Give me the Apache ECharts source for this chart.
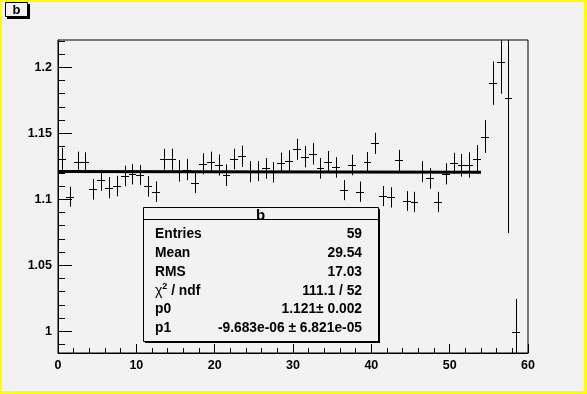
<!DOCTYPE html>
<html>
<head>
<meta charset="utf-8">
<script src="https://cdn.jsdelivr.net/npm/echarts@6/dist/echarts.min.js"></script>
<style>
html,body{margin:0;padding:0;background:#f2f2f2;}
#c{width:587px;height:394px;}
</style>
</head>
<body>
<div id="c"></div>
<script>
// ---- data ----
var binCenters = [];
for (var i = 0; i < 59; i++) binCenters.push(i + 0.5);
var binValues = [1.1305, 1.102, 1.128, 1.128, 1.1076, 1.1144, 1.1088, 1.110, 1.1177, 1.119,
  1.1185, 1.1098, 1.1058, 1.1303, 1.1303, 1.1216, 1.1226, 1.1126, 1.127, 1.128,
  1.126, 1.1183, 1.1305, 1.1326, 1.121, 1.1214, 1.1235, 1.1205, 1.1277, 1.129,
  1.1379, 1.1323, 1.1345, 1.1235, 1.1285, 1.1242, 1.107, 1.126, 1.1058, 1.128,
  1.1424, 1.1025, 1.1015, 1.1295, 1.0987, 1.098, 1.121, 1.1159, 1.098, 1.1193,
  1.1273, 1.1258, 1.126, 1.1303, 1.1476, 1.188, 1.2038, 1.1765, 0.9993];
var binErrors = [0.0085, 0.0076, 0.0081, 0.0076, 0.0078, 0.0080, 0.0080, 0.0078, 0.0078, 0.0077,
  0.0076, 0.0078, 0.0078, 0.0080, 0.0081, 0.0082, 0.0080, 0.0078, 0.0080, 0.0081,
  0.0080, 0.0082, 0.0078, 0.0081, 0.0080, 0.0076, 0.0078, 0.0077, 0.0077, 0.0083,
  0.0080, 0.0081, 0.0081, 0.0078, 0.0081, 0.0078, 0.0076, 0.0078, 0.0077, 0.0078,
  0.0080, 0.0076, 0.0077, 0.0080, 0.0075, 0.0077, 0.0080, 0.0078, 0.0077, 0.0080,
  0.0080, 0.0086, 0.0096, 0.0108, 0.0124, 0.0164, 0.0238, 0.102, 0.0253];
var fitX = [0, 54];
var fitY = [1.121, 1.1205];
var xTickLabels = ['0', '10', '20', '30', '40', '50', '60'];
var yMajorTicks = [1, 1.05, 1.1, 1.15, 1.2];
var yMajorLabels = ['1', '1.05', '1.1', '1.15', '1.2'];
var yMinorTicks = [0.99, 1.01, 1.02, 1.03, 1.04, 1.06, 1.07, 1.08, 1.09, 1.11, 1.12, 1.13, 1.14, 1.16, 1.17, 1.18, 1.19, 1.21, 1.22];
var statNames = ['Entries', 'Mean', 'RMS', '{c|\u03C7}{s|2}{n| / ndf}', 'p0', 'p1'];
var statValues = ['59', '29.54', '17.03', '111.1 / 52', '1.121\u00B1 0.002', '-9.683e-06 \u00B1 6.821e-05'];
var histTitle = 'b';

// ---- chart ----
var FONT = "'Liberation Sans', Arial, Helvetica, sans-serif";
var SF = 13.8;
var chart = echarts.init(document.getElementById('c'), null, {renderer: 'canvas'});
var errData = binCenters.map(function (x, i) { return [x, binValues[i], binErrors[i]]; });
var fitData = fitX.map(function (x, i) { return [x, fitY[i]]; });
var Y_MIN = 0.9836, Y_MAX = 1.2207;

function renderErr(params, api) {
  var x = api.value(0), y = api.value(1), e = api.value(2);
  var cs = params.coordSys;
  var top = cs.y, bot = cs.y + cs.height;
  var p = api.coord([x, y]);
  var pl = api.coord([x - 0.5, y]);
  var pr = api.coord([x + 0.5, y]);
  var pt = api.coord([x, y + e]);
  var pb = api.coord([x, y - e]);
  var cx = Math.round(p[0]) + 0.5;
  var cy = Math.round(p[1]) + 0.5;
  var y1 = Math.max(top, Math.min(bot, pt[1]));
  var y2 = Math.max(top, Math.min(bot, pb[1]));
  var st = {stroke: '#000', lineWidth: 1};
  var children = [
    {type: 'line', shape: {x1: cx, y1: y1, x2: cx, y2: y2}, style: st}
  ];
  if (p[1] >= top && p[1] <= bot) {
    children.push({type: 'line', shape: {x1: Math.round(pl[0]), y1: cy, x2: Math.round(pr[0]), y2: cy}, style: st});
  }
  return {type: 'group', children: children};
}

var g = [];
var boxX = 143, boxY = 207, boxW = 235, boxH = 134;
g.push({type: 'rect', shape: {x: boxX + 2, y: boxY + 2, width: boxW, height: boxH}, style: {fill: '#000'}, z: 100});
g.push({type: 'rect', shape: {x: boxX + 0.5, y: boxY + 0.5, width: boxW, height: boxH}, style: {fill: '#f2f2f2', stroke: '#000', lineWidth: 1}, z: 101});
g.push({type: 'line', shape: {x1: boxX, y1: 219.5, x2: boxX + boxW, y2: 219.5}, style: {stroke: '#000', lineWidth: 1}, z: 102});
g.push({type: 'text', x: boxX + boxW / 2, y: 216, style: {text: histTitle, font: 'bold 15px ' + FONT, fill: '#000', textAlign: 'center', textVerticalAlign: 'middle'}, z: 103});
var rowY = [234.5, 253.5, 272.5, 291, 309.5, 328.5];
for (var r = 0; r < statNames.length; r++) {
  g.push({type: 'text', x: 155, y: rowY[r], z: 103,
    style: {text: statNames[r], font: 'bold ' + SF + 'px ' + FONT, fill: '#000', textVerticalAlign: 'middle',
      rich: {
        c: {font: '14px ' + FONT, fill: '#000', lineHeight: 17},
        s: {font: 'bold 9px ' + FONT, fill: '#000', lineHeight: 9, verticalAlign: 'top'},
        n: {font: 'bold ' + SF + 'px ' + FONT, fill: '#000', lineHeight: 17}
      }}});
  g.push({type: 'text', x: 362, y: rowY[r], z: 103,
    style: {text: statValues[r], font: 'bold ' + SF + 'px ' + FONT, fill: '#000', textAlign: 'right', textVerticalAlign: 'middle'}});
}
// title box top-left
g.push({type: 'rect', shape: {x: 7, y: 4, width: 23, height: 15}, style: {fill: '#000'}, z: 100});
g.push({type: 'rect', shape: {x: 5.5, y: 2.5, width: 22, height: 14}, style: {fill: '#f2f2f2', stroke: '#000', lineWidth: 1}, z: 101});
g.push({type: 'text', x: 16.5, y: 10, style: {text: histTitle, font: 'bold 13px ' + FONT, fill: '#000', textAlign: 'center', textVerticalAlign: 'middle'}, z: 103});
// yellow canvas border
g.push({type: 'rect', shape: {x: 0, y: 0, width: 587, height: 2}, style: {fill: '#ffff00'}, z: 90});
g.push({type: 'rect', shape: {x: 0, y: 0, width: 2, height: 394}, style: {fill: '#ffff00'}, z: 90});
g.push({type: 'rect', shape: {x: 584, y: 0, width: 3, height: 394}, style: {fill: '#ffff00'}, z: 90});
g.push({type: 'rect', shape: {x: 0, y: 391, width: 587, height: 3}, style: {fill: '#ffff00'}, z: 90});

var option = {
  backgroundColor: '#f2f2f2',
  animation: false,
  grid: {left: 58, top: 40, right: 59, bottom: 41, show: true, borderColor: '#000', borderWidth: 1, backgroundColor: 'transparent'},
  xAxis: {
    type: 'value', min: 0, max: 60, interval: 10,
    axisLine: {show: true, onZero: false, lineStyle: {color: '#000', width: 1}},
    axisTick: {show: true, inside: true, length: 9, lineStyle: {color: '#000'}},
    minorTick: {show: true, splitNumber: 5, length: 5, lineStyle: {color: '#000'}},
    axisLabel: {margin: 6, fontFamily: FONT, fontWeight: 'bold', fontSize: 12.5, color: '#000',
      formatter: function (v) { return xTickLabels[Math.round(v / 10)]; }},
    splitLine: {show: false}
  },
  yAxis: [{
    type: 'value', min: Y_MIN, max: Y_MAX,
    axisLine: {show: true, onZero: false, lineStyle: {color: '#000', width: 1}},
    axisTick: {show: true, inside: true, length: 14, customValues: yMajorTicks, lineStyle: {color: '#000'}},
    axisLabel: {margin: 6, customValues: yMajorTicks, fontFamily: FONT, fontWeight: 'bold', fontSize: 12.5, color: '#000',
      formatter: function (v) { var k = yMajorTicks.indexOf(Math.round(v * 100) / 100); return k >= 0 ? yMajorLabels[k] : ''; }},
    splitLine: {show: false}
  }, {
    type: 'value', min: Y_MIN, max: Y_MAX, position: 'left',
    axisLine: {show: false},
    axisTick: {show: true, inside: true, length: 7, customValues: yMinorTicks, lineStyle: {color: '#000'}},
    axisLabel: {show: false, customValues: yMinorTicks},
    splitLine: {show: false}
  }],
  graphic: g,
  series: [{
    type: 'custom', renderItem: renderErr, data: errData, z: 3,
    encode: {x: 0, y: 1}
  }, {
    type: 'line', data: fitData, showSymbol: false, symbol: 'none', z: 4,
    lineStyle: {color: '#000', width: 3}
  }]
};
chart.setOption(option);
</script>
</body>
</html>
